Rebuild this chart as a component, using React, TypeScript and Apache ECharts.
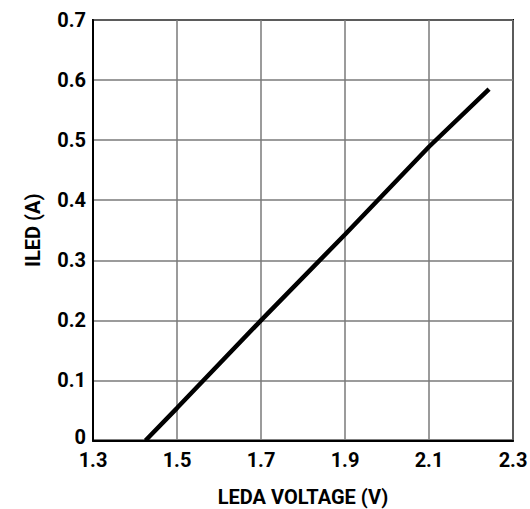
import React, { useEffect, useRef } from "react";
import * as echarts from "echarts";

const voltage = [1.425, 1.5, 1.7, 1.9, 2.1, 2.243];
const current = [0, 0.054, 0.2, 0.343, 0.489, 0.585];
const xTicks = [1.3, 1.5, 1.7, 1.9, 2.1, 2.3];
const yTicks = [0, 0.1, 0.2, 0.3, 0.4, 0.5, 0.6, 0.7];

const FONT = "Roboto, 'DejaVu Sans Condensed', sans-serif";

export default function App() {
  const ref = useRef<HTMLDivElement>(null);
  useEffect(() => {
    document.body.style.margin = "0";
    const chart = echarts.init(ref.current!, null, { renderer: "svg" });
    const labelStyle = { fontFamily: FONT, fontWeight: "bold" as const, fontSize: 20, color: "#000" };
    chart.setOption({
      animation: false,
      backgroundColor: "#ffffff",
      grid: {
        left: 93,
        right: 17,
        top: 20,
        bottom: 68.5,
        outerBoundsMode: "none",
        containLabel: false,
        show: true,
        borderColor: "#000",
        borderWidth: 2,
        backgroundColor: "transparent",
      },
      xAxis: {
        type: "value",
        min: xTicks[0],
        max: xTicks[xTicks.length - 1],
        interval: 0.2,
        name: "LEDA VOLTAGE (V)",
        nameLocation: "middle",
        nameGap: 46,
        nameTextStyle: labelStyle,
        axisLine: { show: true, lineStyle: { color: "#000", width: 2 } },
        axisTick: { show: false },
        axisLabel: {
          ...labelStyle,
          margin: 9,
          formatter: (v: number) => v.toFixed(1),
        },
        splitLine: { show: true, lineStyle: { color: "#7a7a7a", width: 1.5 } },
      },
      yAxis: {
        type: "value",
        min: yTicks[0],
        max: yTicks[yTicks.length - 1],
        interval: 0.1,
        name: "ILED (A)",
        nameLocation: "middle",
        nameGap: 50,
        nameTextStyle: labelStyle,
        axisLine: { show: true, lineStyle: { color: "#000", width: 2 } },
        axisTick: { show: false },
        axisLabel: {
          ...labelStyle,
          margin: 7,
          formatter: (v: number) => (v === 0 ? "{z|0}" : v.toFixed(1)),
          rich: { z: { ...labelStyle, padding: [0, 0, 8, 0] } },
        },
        splitLine: { show: true, lineStyle: { color: "#7a7a7a", width: 1.5 } },
      },
      series: [
        {
          type: "line",
          data: voltage.map((v, i) => [v, current[i]]),
          showSymbol: false,
          symbol: "none",
          lineStyle: { color: "#000", width: 4.5 },
        },
      ],
    });
    return () => chart.dispose();
  }, []);
  return <div ref={ref} style={{ width: 530, height: 509 }} />;
}
